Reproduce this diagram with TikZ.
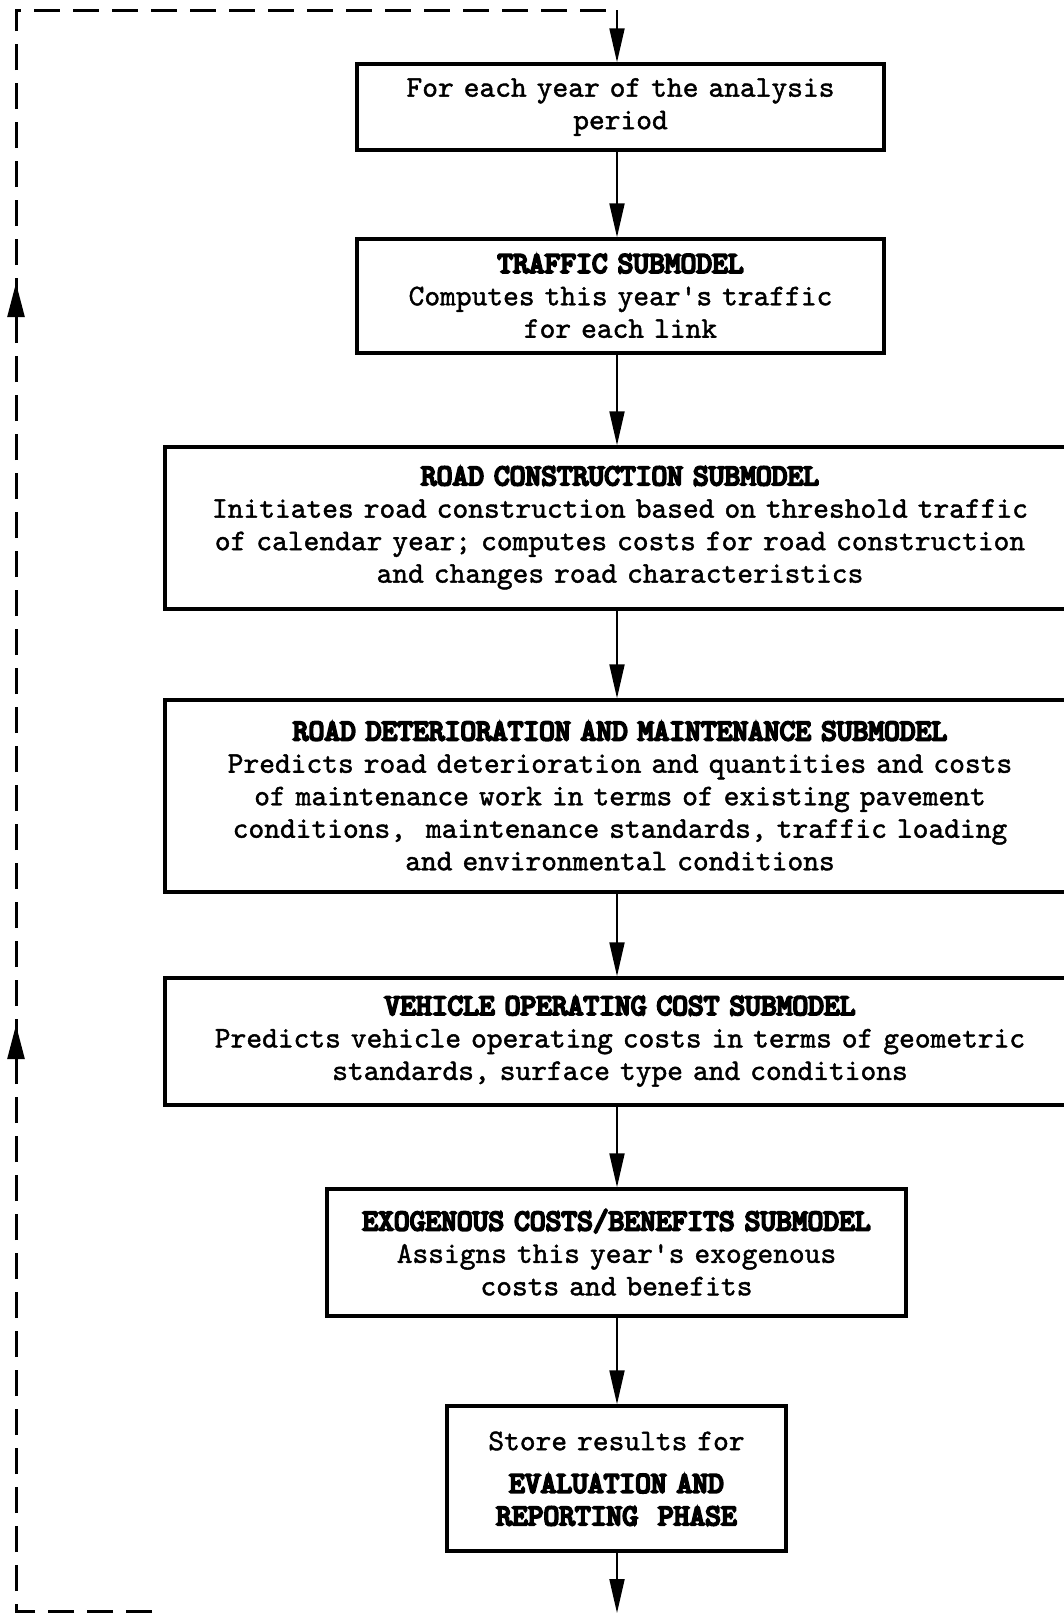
\documentclass[tikz,border=0pt]{standalone}
\usepackage{fontspec}
\usetikzlibrary{arrows.meta}
% typewriter faces: an emboldened body face and a heavy face for the headings
\newfontfamily\bodytt{lmmono10-regular.otf}[FakeBold=1.4]
\newfontfamily\headtt{lmmono10-regular.otf}[FakeBold=7]
\newcommand{\hd}[1]{{\headtt #1}}
\begin{document}
\begin{tikzpicture}[x=1pt,y=-1pt,
  box/.style={draw, line width=3.5pt, inner sep=0pt, align=center,
    font=\fontsize{30}{32.5}\selectfont\bodytt},
  flow/.style={line width=2pt, -{Triangle[width=15pt,length=34pt]}},
  loopline/.style={line width=3pt, dash pattern=on 26pt off 13pt},
  uphead/.style={line width=2.5pt, -{Triangle[width=17pt,length=34pt]}},
]
\useasboundingbox (0,0) rectangle (1064,1615);
\clip (0,0) rectangle (1064,1615);

% main column of the flow chart
\coordinate (colx) at (617,0);

\node[box, minimum width=527pt, text width=527pt, minimum height=86pt] (b1) at (620.5,107)
  {For each year of the analysis\\period};
\node[box, minimum width=527pt, text width=527pt, minimum height=114pt] (b2) at (620.5,296)
  {\hd{TRAFFIC SUBMODEL}\\Computes this year's traffic\\for each link};
\node[box, minimum width=910pt, text width=910pt, minimum height=162pt] (b3) at (620,528)
  {\hd{ROAD CONSTRUCTION SUBMODEL}\\
   Initiates road construction based on threshold traffic\\
   of calendar year; computes costs for road construction\\
   and changes road characteristics};
\node[box, minimum width=910pt, text width=910pt, minimum height=192pt] (b4) at (620,796)
  {\hd{ROAD DETERIORATION AND MAINTENANCE SUBMODEL}\\
   Predicts road deterioration and quantities and costs\\
   of maintenance work in terms of existing pavement\\
   conditions,~ maintenance standards, traffic loading\\
   and environmental conditions};
\node[box, minimum width=910pt, text width=910pt, minimum height=127pt] (b5) at (620,1041.5)
  {\hd{VEHICLE OPERATING COST SUBMODEL}\\
   Predicts vehicle operating costs in terms of geometric\\
   standards, surface type and conditions};
\node[box, minimum width=579pt, text width=579pt, minimum height=127pt] (b6) at (616.5,1252.5)
  {\hd{EXOGENOUS COSTS/BENEFITS SUBMODEL}\\
   Assigns this year's exogenous\\costs and benefits};
\node[box, minimum width=339pt, text width=339pt, minimum height=145pt] (b7) at (616.5,1478.5)
  {Store results for\\[10pt]\hd{EVALUATION AND}\\\hd{REPORTING~ PHASE}};

% forward connectors
\coordinate (out) at (617,1613);
\draw[flow] (b1.south -| colx) -- (b2.north -| colx);
\draw[flow] (b2.south -| colx) -- (b3.north -| colx);
\draw[flow] (b3.south -| colx) -- (b4.north -| colx);
\draw[flow] (b4.south -| colx) -- (b5.north -| colx);
\draw[flow] (b5.south -| colx) -- (b6.north -| colx);
\draw[flow] (b6.south -| colx) -- (b7.north -| colx);
\draw[flow] (b7.south -| colx) -- (out);

% return loop to the next year
\coordinate (lbend) at (152,1611);
\coordinate (lbl) at (16,1611);
\coordinate (ltl) at (16,10);
\coordinate (ltr) at (617,10);
\draw[loopline] (lbend) -- (lbl) -- (ltl) -- (ltr);
\draw[flow] (ltr) -- (b1.north -| colx);
\coordinate (h1s) at (16,317);
\coordinate (h1e) at (16,283);
\coordinate (h2s) at (16,1059);
\coordinate (h2e) at (16,1025);
\draw[uphead] (h1s) -- (h1e);
\draw[uphead] (h2s) -- (h2e);
\end{tikzpicture}
\end{document}
